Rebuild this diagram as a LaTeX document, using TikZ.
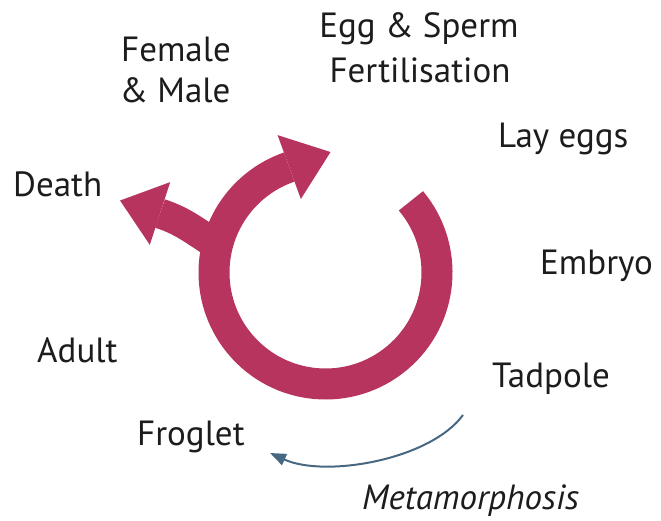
\documentclass[tikz,border=0pt]{standalone}
\usepackage{fontspec}
\setmainfont{PT Sans}
\usetikzlibrary{calc,arrows.meta}
\definecolor{ringred}{RGB}{182,52,94}
\definecolor{metablue}{RGB}{72,104,130}
\definecolor{txt}{RGB}{28,28,28}
\tikzset{
  lbl/.style={anchor=base west,inner sep=0pt,text=txt,font=\fontsize{35}{40}\selectfont},
  lblc/.style={anchor=base,inner sep=0pt,text=txt,font=\fontsize{35}{40}\selectfont},
  band/.style={draw=ringred,line width=31pt},
  head/.style={fill=ringred,draw=none}
}
\begin{document}
\begin{tikzpicture}[x=1pt,y=1pt]
\useasboundingbox (0,0) rectangle (661,520);
% ring
\coordinate (C) at (325.5,247.5);
\draw[band] ($(C)+(40:111.5)$) arc[start angle=40,end angle=-251,radius=111.5] coordinate (B);
\coordinate (T) at ($(B)+(20:44)$);
\coordinate (B1) at ($(B)+(110:34)$);
\coordinate (B2) at ($(B)+(-70:34)$);
\fill[head] (B1) -- (T) -- (B2) -- cycle;
% death branch
\coordinate (S) at (222,272);
\coordinate (D) at (160,306.5);
\draw[draw=ringred,line width=30pt] (S) to[out=150,in=-18] (D);
\coordinate (DT) at ($(D)+(162:42)$);
\coordinate (D1) at ($(D)+(72:33)$);
\coordinate (D2) at ($(D)+(-108:33)$);
\fill[head] (D1) -- (DT) -- (D2) -- cycle;
% metamorphosis arrow
\coordinate (m1) at (463,105);
\coordinate (m2) at (270,67);
\draw[metablue,line width=2pt,-{Triangle[length=16pt,width=12pt]}] (m1) .. controls (430,60) and (325,42) .. (m2);
% labels
\node[lblc] (egg) at (419,482) {Egg \& Sperm};
\node[lblc] (fert) at (420,437) {Fertilisation};
\node[lblc] (fem) at (176,458) {Female};
\node[lblc] (male) at (175,417) {\& Male};
\node[lbl] (death) at (13,323) {Death};
\node[lbl] (lay) at (498,372) {Lay eggs};
\node[lbl] (emb) at (540,245) {Embryo};
\node[lbl] (adult) at (37,158) {Adult};
\node[lbl] (frog) at (137,75) {Froglet};
\node[lbl] (tad) at (492,133) {Tadpole};
\node[lbl,font=\fontsize{35}{40}\selectfont\itshape] (meta) at (362,11) {Metamorphosis};
\end{tikzpicture}
\end{document}
